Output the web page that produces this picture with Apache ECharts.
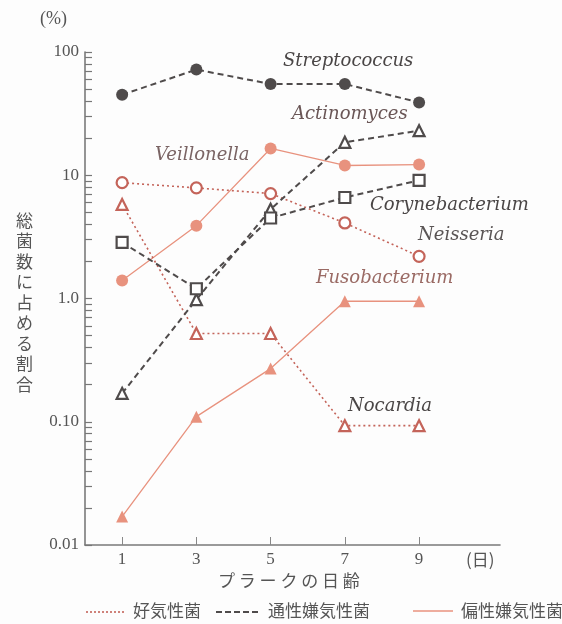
<!DOCTYPE html>
<html>
<head>
<meta charset="utf-8">
<script src="https://cdn.jsdelivr.net/npm/echarts@6/dist/echarts.min.js"></script>
<style>
  html, body { margin: 0; padding: 0; background: #fdfdfd; }
  #chart { width: 562px; height: 624px; }
</style>
</head>
<body>
<div id="chart"></div>
<script>
// プラークの日齢（日）
var days = [1, 3, 5, 7, 9];
// 総菌数に占める割合（%）
var streptococcus = [45, 72, 55, 55, 39];
var actinomyces = [0.17, 0.98, 5.3, 18.5, 23];
var corynebacterium = [2.85, 1.2, 4.5, 6.6, 9.1];
var veillonella = [1.4, 3.9, 16.5, 12, 12.2];
var neisseria = [8.7, 7.9, 7.1, 4.1, 2.2];
var nocardia = [5.8, 0.52, 0.52, 0.093, 0.093];
var fusobacterium = [0.017, 0.11, 0.27, 0.95, 0.95];
var yTickLabels = ['0.01', '0.10', '1.0', '10', '100'];
var yDecades = [0.01, 0.1, 1, 10, 100];

var DARK = '#4f4b4b';
var RED = '#c4645a';
var PINK = '#e8927e';
var SERIF = '"Liberation Serif", "DejaVu Serif", serif';
var JP = '"Noto Sans CJK JP", sans-serif';

// log minor ticks 1..9 for each decade
var yTicks = [];
for (var d = 0; d < 4; d++) {
  for (var k = 1; k < 10; k++) {
    yTicks.push(k * yDecades[d]);
  }
}
yTicks.push(100);

function pairs(vals) {
  return vals.map(function (v, i) { return [days[i], v]; });
}

// 通性嫌気性菌：破線, 好気性菌：点線, 偏性嫌気性菌：実線
function mkSeries(name, vals, kind, symbol, filled) {
  var c = kind === 'aer' ? RED : (kind === 'fac' ? DARK : PINK);
  var ls = kind === 'aer' ? { color: c, width: 1.6, type: [2, 3] }
    : kind === 'fac' ? { color: c, width: 2, type: [6, 4] }
    : { color: c, width: 1.3, type: 'solid' };
  return {
    name: name,
    type: 'line',
    data: pairs(vals),
    symbol: symbol,
    symbolSize: filled ? 12 : 11,
    lineStyle: ls,
    itemStyle: filled ? { color: c, borderColor: c, borderWidth: 0 }
      : { color: '#ffffff', borderColor: c, borderWidth: 2.2 },
    emphasis: { disabled: true },
    z: filled ? 3 : 4
  };
}

var chart = echarts.init(document.getElementById('chart'));

var labelStyle = function (txt, x, y, color) {
  return {
    type: 'text', left: x, top: y,
    style: { text: txt, font: 'italic 18px "DejaVu Serif", serif', fill: color }
  };
};

var option = {
  backgroundColor: '#fdfdfd',
  animation: false,
  grid: { left: 85, top: 52, width: 415, height: 493 },
  xAxis: {
    type: 'value',
    min: 0,
    max: 11.18,
    splitLine: { show: false },
    axisLine: { lineStyle: { color: '#7a7a7a', width: 1.6 } },
    axisTick: { inside: true, length: 8, customValues: days, lineStyle: { color: '#888' } },
    axisLabel: {
      customValues: days,
      color: '#555', fontFamily: SERIF, fontSize: 17, margin: 6
    }
  },
  yAxis: {
    type: 'log',
    logBase: 10,
    min: 0.01,
    max: 100,
    splitLine: { show: false },
    axisLine: { show: true, lineStyle: { color: '#7a7a7a', width: 1.6 } },
    axisTick: { inside: true, length: 7, customValues: yTicks, lineStyle: { color: '#777', width: 1.2 } },
    axisLabel: {
      customValues: yDecades,
      color: '#555', fontFamily: SERIF, fontSize: 17, margin: 6,
      formatter: function (v) {
        var i = yDecades.findIndex(function (d) { return Math.abs(d - v) / d < 1e-6; });
        return i >= 0 ? yTickLabels[i] : '';
      }
    }
  },
  series: [
    mkSeries('Neisseria', neisseria, 'aer', 'circle', false),
    mkSeries('Nocardia', nocardia, 'aer', 'triangle', false),
    mkSeries('Streptococcus', streptococcus, 'fac', 'circle', true),
    mkSeries('Actinomyces', actinomyces, 'fac', 'triangle', false),
    mkSeries('Corynebacterium', corynebacterium, 'fac', 'rect', false),
    mkSeries('Veillonella', veillonella, 'ana', 'circle', true),
    mkSeries('Fusobacterium', fusobacterium, 'ana', 'triangle', true)
  ],
  graphic: [
    { type: 'text', left: 40, top: 10, style: { text: '(%)', font: '18px ' + SERIF, fill: '#555' } },
    { type: 'text', left: 466, top: 551, style: { text: '(日)', font: '17px ' + JP, fill: '#555' } },
    { type: 'text', left: 218, top: 572, style: { text: 'プ ラ ー ク の 日 齢', font: '17px ' + JP, fill: '#555' } },
    {
      type: 'text', left: 16, top: 210,
      style: { text: '総菌数に占める割合'.split('').join('\n'), font: '17px ' + JP, fill: '#555', lineHeight: 20.5 }
    },
    labelStyle('Streptococcus', 283, 52, '#4a4646'),
    labelStyle('Actinomyces', 292, 105, '#6a5656'),
    labelStyle('Veillonella', 155, 146, '#7a6464'),
    labelStyle('Corynebacterium', 370, 196, '#4a4646'),
    labelStyle('Neisseria', 418, 226, '#5a5555'),
    labelStyle('Fusobacterium', 316, 269, '#9a6a64'),
    labelStyle('Nocardia', 348, 397, '#4a4646'),
    // 凡例
    { type: 'line', shape: { x1: 86, y1: 612, x2: 126, y2: 612 }, style: { stroke: RED, lineWidth: 1.6, lineDash: [2, 2] } },
    { type: 'text', left: 133, top: 602, style: { text: '好気性菌', font: '17px ' + JP, fill: '#555' } },
    { type: 'line', shape: { x1: 216, y1: 612, x2: 260, y2: 612 }, style: { stroke: DARK, lineWidth: 2, lineDash: [6, 3] } },
    { type: 'text', left: 268, top: 602, style: { text: '通性嫌気性菌', font: '17px ' + JP, fill: '#555' } },
    { type: 'line', shape: { x1: 413, y1: 611, x2: 453, y2: 611 }, style: { stroke: PINK, lineWidth: 1.5 } },
    { type: 'text', left: 461, top: 602, style: { text: '偏性嫌気性菌', font: '17px ' + JP, fill: '#555' } }
  ]
};

chart.setOption(option);
</script>
</body>
</html>
